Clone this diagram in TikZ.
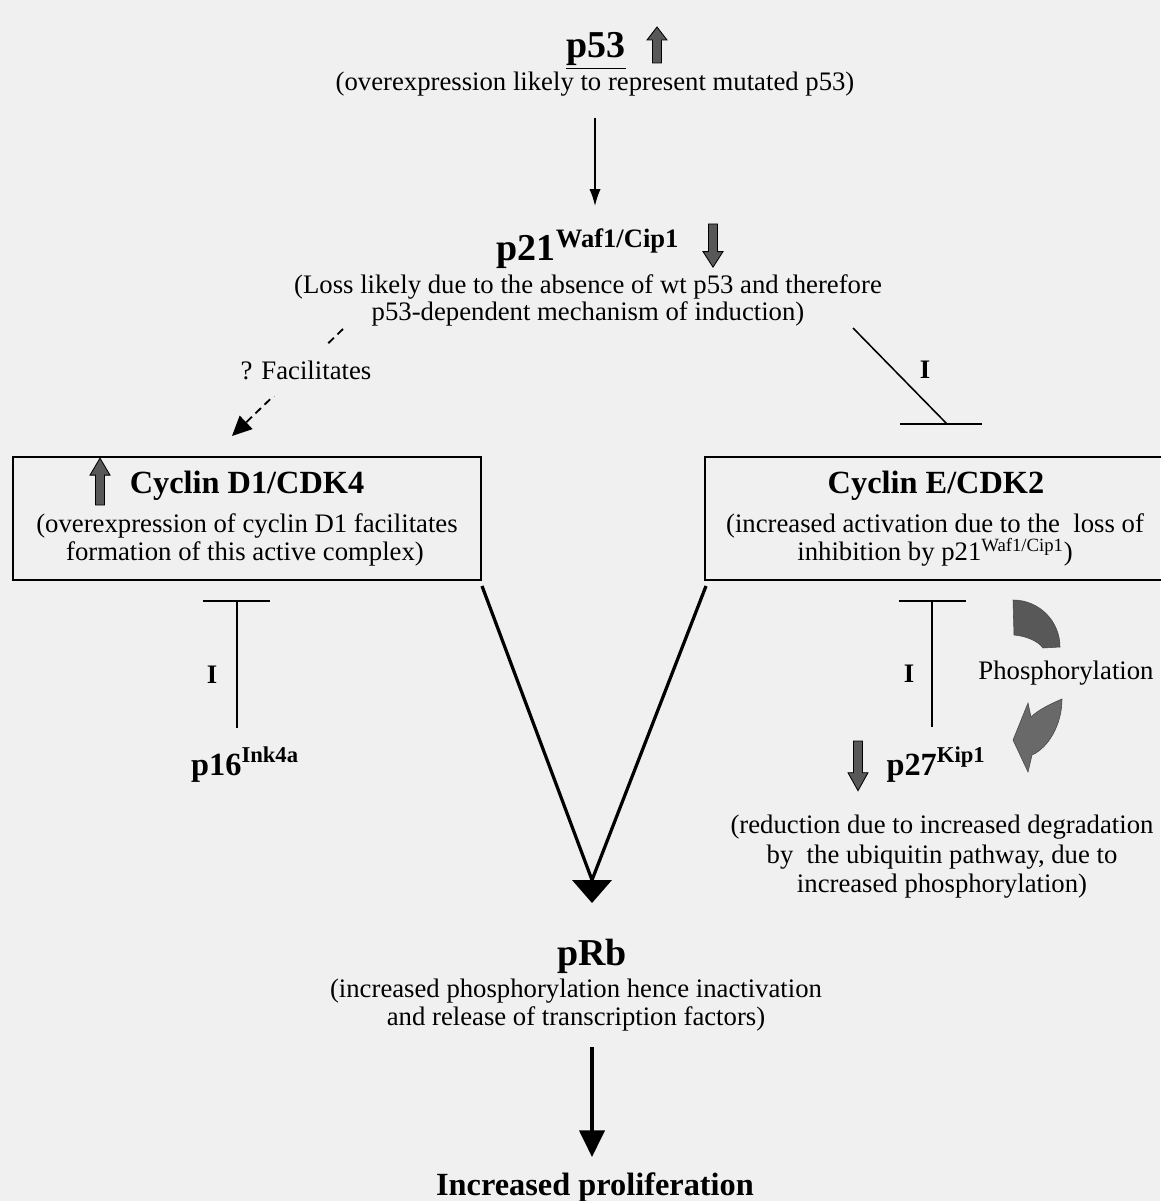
\documentclass[tikz,border=0pt]{standalone}
\usepackage{fontspec}
\setmainfont{Liberation Serif}
\usetikzlibrary{arrows.meta,calc}
\definecolor{bg}{RGB}{240,240,240}
\definecolor{arrgray}{RGB}{88,88,88}
\tikzset{
  body/.style={font=\fontsize{19}{20}\selectfont, inner sep=0pt, anchor=base},
  title/.style={font=\fontsize{23}{24}\selectfont\bfseries, inner sep=0pt, anchor=base},
  big/.style={font=\fontsize{27}{28}\selectfont\bfseries, inner sep=0pt, anchor=base},
  ilabel/.style={font=\fontsize{19}{20}\selectfont\bfseries, inner sep=0pt, anchor=base},
  conn/.style={line width=1.1pt},
  heavy/.style={line width=2.3pt},
  dashline/.style={line width=1.3pt, dash pattern=on 5.5pt off 3.5pt},
  box/.style={draw, line width=1.6pt, inner sep=0pt},
  blockarr/.style={fill=arrgray, draw=black, line width=0.6pt},
}
\newcommand{\myblockarrow}{\filldraw[blockarr]
     (-4.5,0) -- (-4.5,-23) -- (-10,-23) -- (0,-36) -- (10,-23) -- (4.5,-23) -- (4.5,0) -- cycle;}
\begin{document}
\begin{tikzpicture}[x=0.025cm,y=-0.025cm]
\fill[bg] (0,0) rectangle (1160,1201);
\useasboundingbox (0,0) rectangle (1160,1201);

% p53
\node[big] (p53) at (596,58) {\underline{p53}};
\begin{scope}[shift={(657,63)}] \myblockarrow \end{scope}
\node[body] (p53d) at (595,91) {(overexpression likely to represent mutated p53)};

% p21
\node[big] (p21) at (588,260) {p21\textsuperscript{Waf1/Cip1}};
\begin{scope}[shift={(713,224)}, yscale=-1.2] \myblockarrow \end{scope}
\node[body] (p21d1) at (588,293) {(Loss likely due to the absence of wt p53 and therefore};
\node[body] (p21d2) at (588,320) {p53-dependent mechanism of induction)};

\coordinate (a1s) at (595,118);
\coordinate (a1e) at (595,206);
\draw[conn, -{Latex[length=12pt,width=8pt]}] (a1s) -- (a1e);

% dashed facilitates
\coordinate (f1) at (343,329);
\coordinate (f2) at (232,436);
\draw[dashline, -{Triangle[length=14pt,width=13pt,sep=0pt]}] (f1) -- (f2);
\node[body, fill=bg, inner xsep=3pt, inner ysep=12pt] (facil) at (306,379) {? Facilitates};

% inhibition p21 -> cyclin E
\coordinate (i1) at (853,328);
\coordinate (i2) at (947,424);
\draw[conn] (i1) -- (i2);
\draw[conn] ($(i2)+(-47,0)$) -- ($(i2)+(35,0)$);
\node[ilabel] (I1) at (925,378) {I};

% boxes
\node[box, minimum width=11.7cm, minimum height=3.075cm] (cycd) at (247,518.5) {};
\node[box, minimum width=11.625cm, minimum height=3.075cm] (cyce) at (937.5,518.5) {};

\node[title] (cycdT) at (247,493) {Cyclin D1/CDK4};
\begin{scope}[shift={(100,505)}, yscale=1.3] \myblockarrow \end{scope}
\node[body] (cycd1) at (247,532) {(overexpression of cyclin D1 facilitates};
\node[body] (cycd2) at (245,560) {formation of this active complex)};

\node[title] (cyceT) at (936,493) {Cyclin E/CDK2};
\node[body] (cyce1) at (935,532) {(increased activation due to the\ \ loss of};
\node[body] (cyce2) at (935,560) {inhibition by p21\textsuperscript{Waf1/Cip1})};

% p16 inhibition
\coordinate (t1) at (237,601);
\coordinate (t1b) at (237,728);
\draw[conn] (t1b) -- (t1);
\draw[conn] ($(t1)+(-34,0)$) -- ($(t1)+(33,0)$);
\node[ilabel] (I2) at (212,683) {I};
\node[title] (p16) at (245,775) {p16\textsuperscript{Ink4a}};

% p27 inhibition
\coordinate (t2) at (932,601);
\coordinate (t2b) at (932,727);
\draw[conn] (t2b) -- (t2);
\draw[conn] ($(t2)+(-33,0)$) -- ($(t2)+(34,0)$);
\node[ilabel] (I3) at (909,682) {I};
\node[body] (phos) at (1066,679) {Phosphorylation};
\node[title] (p27) at (936,775) {p27\textsuperscript{Kip1}};
\begin{scope}[shift={(858,741)}, yscale=-1.38] \myblockarrow \end{scope}

% curved phosphorylation arrows
\filldraw[fill=arrgray, draw=arrgray!80!black, line width=0.4pt]
  (1013,600) .. controls (1039,600) and (1060,621) .. (1060,647)
  -- (1043,648) .. controls (1038,641) and (1026,636) .. (1014,635) -- cycle;
\filldraw[fill=arrgray!90!white, draw=arrgray!80!black, line width=0.4pt]
  (1062,699) .. controls (1050,704) and (1038,710) .. (1031,717)
  -- (1028,703) -- (1013,740) -- (1028,772) -- (1032,755)
  .. controls (1048,748) and (1062,725) .. (1062,699) -- cycle;

\node[body] (p27d1) at (942,833) {(reduction due to increased degradation};
\node[body] (p27d2) at (942,863) {by\ \ the ubiquitin pathway, due to};
\node[body] (p27d3) at (942,892) {increased phosphorylation)};

% V arrow to pRb
\coordinate (v1) at (482,586);
\coordinate (v2) at (706,586);
\coordinate (vj) at (592,880);
\coordinate (vt) at (592,903);
\draw[heavy] (v1) -- (vj);
\draw[heavy] (v2) -- (vj);
\fill ($(vj)+(-20,0)$) -- ($(vj)+(20,0)$) -- (vt) -- cycle;

% pRb
\node[big] (prb) at (592,965) {pRb};
\node[body] (prbd1) at (576,997) {(increased phosphorylation hence inactivation};
\node[body] (prbd2) at (576,1025) {and release of transcription factors)};

\coordinate (b1) at (592,1047);
\coordinate (b2) at (592,1157);
\draw[heavy, -{Triangle[length=19pt,width=18pt]}] (b1) -- (b2);

\node[title] (prolif) at (595,1195) {Increased proliferation};
\end{tikzpicture}
\end{document}
